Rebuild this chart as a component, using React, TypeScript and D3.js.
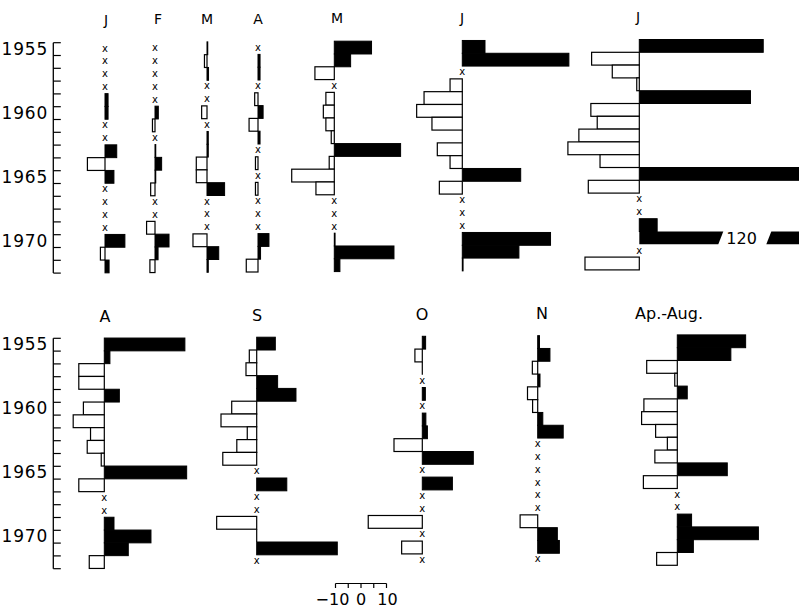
import React from 'react';
import * as d3 from 'd3';

// ---------- data ----------
const years = [1955, 1956, 1957, 1958, 1959, 1960, 1961, 1962, 1963, 1964, 1965, 1966, 1967, 1968, 1969, 1970, 1971, 1972];
const yearLabels = [1955, 1960, 1965, 1970];

// null = "x" (no value); 0 = zero value
const janVals = [null, null, null, null, 1.2, 1.2, null, null, 4.6, -6.9, 3.5, null, null, null, null, 7.8, -1.8, 1.6];
const febVals = [null, null, null, null, null, 1.3, -1, null, 0.3, 2.6, 0.3, -1.7, null, null, -3.3, 5.5, 1.2, -2];
const marVals = [0.3, -1, 0.6, null, null, -2.1, null, 0.5, 0.5, -4.2, -4.2, 6.9, null, null, null, -5.5, 4.6, 0.5];
const aprVals = [null, 0.8, 0.8, null, -1.3, 2, -3.5, 0.8, null, -1, null, -1, null, null, null, 4.3, 1, -4.6];
const mayVals = [14.6, 6.4, -7.6, null, -3.3, -4.3, -3.3, -1.2, 26, -2, -16.7, -7.2, null, null, null, 0.3, 23.4, 2.2];
const junVals = [8.9, 41.8, null, -4.8, -15, -17.9, -11.9, 0, -9.8, -4.8, 22.9, -9, null, null, null, 34.6, 22.2, 0.3];
const julVals = [48.6, -18.7, -10.6, -1, 43.6, -19, -16.5, -23.7, -28, -15.4, 75, -20, null, null, 7, 120, null, -21.3];
const augVals = [31.6, 2.2, -10, -10, 5.9, -8.2, -12.2, -5.4, -6.7, -1.2, 32.3, -10, null, null, 3.8, 18.3, 9.4, -5.9];
const sepVals = [7.3, -2.9, -4.2, 8.2, 15.4, -9.8, -14, -3.7, -7.8, -13.3, null, 11.8, null, null, -15.7, 0, 31.6, null];
const octVals = [1.3, -2.9, 0, null, 1.2, null, 1.4, 2, -11.1, 20, null, 11.8, null, null, -21.2, null, -8.1, null];
const novVals = [0.7, 4.8, -2.1, 0.9, -4, -2, 2, 10, null, null, null, null, null, null, -6.9, 7.7, 8.5, null];
const apAugVals = [26.8, 21, -12, -1, 3.9, -13.1, -14, -8.5, -3.9, -8.8, 19.6, -13.3, null, null, 5.6, 31.8, 6.3, -8.1];

const panelTitles = ['J', 'F', 'M', 'A', 'M', 'J', 'J', 'A', 'S', 'O', 'N', 'Ap.-Aug.'];
const scaleTicks = [-10, -5, 0, 5, 10];
const scaleLabels = [-10, 0, 10];

// ---------- layout ----------
const W = 799;
const H = 612;
const ROW_H = 12.8;
const SKEW = 0.0055;
const FONT = 'DejaVu Sans, sans-serif';
const TOP_ROW = { base: 42.7, axisX: 53.3, titleBase: 25, titleSize: 14 };
const BOT_ROW = { base: 338.3, axisX: 53.3, titleBase: 322, titleSize: 16 };

const unit = d3.scaleLinear().domain([0, 10]).range([0, 25.5]);

type Panel = { title: string; values: (number | null)[]; zero: number; titleX: number; row: typeof TOP_ROW };

const panels: Panel[] = [
  { title: panelTitles[0], values: janVals, zero: 105, titleX: 106, row: TOP_ROW },
  { title: panelTitles[1], values: febVals, zero: 155, titleX: 158, row: TOP_ROW },
  { title: panelTitles[2], values: marVals, zero: 207, titleX: 207, row: TOP_ROW },
  { title: panelTitles[3], values: aprVals, zero: 258, titleX: 258, row: TOP_ROW },
  { title: panelTitles[4], values: mayVals, zero: 334.3, titleX: 337, row: TOP_ROW },
  { title: panelTitles[5], values: junVals, zero: 462.3, titleX: 462, row: TOP_ROW },
  { title: panelTitles[6], values: julVals, zero: 639.3, titleX: 638, row: TOP_ROW },
  { title: panelTitles[7], values: augVals, zero: 104.3, titleX: 105, row: BOT_ROW },
  { title: panelTitles[8], values: sepVals, zero: 256.7, titleX: 257, row: BOT_ROW },
  { title: panelTitles[9], values: octVals, zero: 422.3, titleX: 422, row: BOT_ROW },
  { title: panelTitles[10], values: novVals, zero: 537.7, titleX: 542, row: BOT_ROW },
  { title: panelTitles[11], values: apAugVals, zero: 677.3, titleX: 669, row: BOT_ROW },
];

function PanelView({ p }: { p: Panel }) {
  const top = p.row.base - (p.zero - 58) * SKEW;
  const y = d3.scaleBand<number>().domain(years).range([top, top + years.length * ROW_H]);
  const bw = y.bandwidth();
  const titleY = p.row.titleBase - (p.titleX - 58) * SKEW;
  return (
    <g>
      <text x={p.titleX} y={titleY} textAnchor="middle" fontFamily={FONT} fontSize={p.row.titleSize} fill="#000">
        {p.title}
      </text>
      {p.values.map((v, i) => {
        const yr = years[i];
        const y0 = y(yr)!;
        if (v === null) {
          return (
            <text key={yr} x={p.zero} y={y0 + bw / 2 + 2.8} textAnchor="middle" fontFamily={FONT} fontSize={10} fill="#000">
              x
            </text>
          );
        }
        if (v === 0) {
          return <line key={yr} x1={p.zero} x2={p.zero} y1={y0} y2={y0 + bw} stroke="#000" strokeWidth={1.2} />;
        }
        if (v > 100) {
          // broken bar with value label
          const x0 = p.zero;
          const e1 = x0 + 84;
          const s2 = x0 + 132;
          return (
            <g key={yr}>
              <polygon points={`${x0},${y0} ${e1},${y0} ${e1 - 5},${y0 + bw} ${x0},${y0 + bw}`} fill="#000" />
              <text x={e1 + 3} y={y0 + bw - 0.5} fontFamily={FONT} fontSize={16} fill="#000">
                {v}
              </text>
              <polygon points={`${s2},${y0} ${W + 20},${y0} ${W + 20},${y0 + bw} ${s2 - 5},${y0 + bw}`} fill="#000" />
            </g>
          );
        }
        if (v > 0) {
          return (
            <rect key={yr} x={p.zero} y={y0} width={unit(v)} height={bw} fill="#000" stroke="#000" strokeWidth={1} />
          );
        }
        return (
          <rect key={yr} x={p.zero - unit(-v)} y={y0} width={unit(-v)} height={bw} fill="#fff" stroke="#000" strokeWidth={1.2} />
        );
      })}
    </g>
  );
}

function YAxis({ row }: { row: typeof TOP_ROW }) {
  const y = d3.scaleBand<number>().domain(years).range([row.base, row.base + years.length * ROW_H]);
  const bounds = [...years.map((yr) => y(yr)!), row.base + years.length * ROW_H];
  return (
    <g>
      <line x1={row.axisX} x2={row.axisX} y1={bounds[0]} y2={bounds[bounds.length - 1]} stroke="#000" strokeWidth={1.3} />
      {bounds.map((b, i) => (
        <line key={i} x1={row.axisX} x2={row.axisX + 7.5} y1={b} y2={b} stroke="#000" strokeWidth={1.2} />
      ))}
      {yearLabels.map((yr) => (
        <text
          key={yr}
          x={48}
          y={y(yr)! + y.bandwidth() / 2 + 5.5}
          textAnchor="end"
          fontFamily={FONT}
          fontSize={17}
          letterSpacing={0.8}
          fill="#000"
        >
          {yr}
        </text>
      ))}
    </g>
  );
}

function ScaleBar() {
  const cx = 361;
  const yb = 583.5;
  return (
    <g>
      <line x1={cx + unit(-10)} x2={cx + unit(10)} y1={yb} y2={yb} stroke="#000" strokeWidth={1.2} />
      {scaleTicks.map((t) => (
        <line key={t} x1={cx + unit(t)} x2={cx + unit(t)} y1={yb} y2={yb + 4.5} stroke="#000" strokeWidth={1.2} />
      ))}
      {scaleLabels.map((t) => (
        <text
          key={t}
          x={cx + unit(t) + (t < 0 ? -3 : t > 0 ? 1 : 0)}
          y={605}
          textAnchor="middle"
          fontFamily={FONT}
          fontSize={16}
          fill="#000"
        >
          {t < 0 ? `\u2212${-t}` : `${t}`}
        </text>
      ))}
    </g>
  );
}

export default function App() {
  return (
    <svg
      width={W}
      height={H}
      viewBox={`0 0 ${W} ${H}`}
      style={{ position: 'absolute', left: 0, top: 0, background: '#fff' }}
    >
      <rect x={0} y={0} width={W} height={H} fill="#fff" />
      <YAxis row={TOP_ROW} />
      <YAxis row={BOT_ROW} />
      {panels.map((p, i) => (
        <PanelView key={i} p={p} />
      ))}
      <ScaleBar />
    </svg>
  );
}
